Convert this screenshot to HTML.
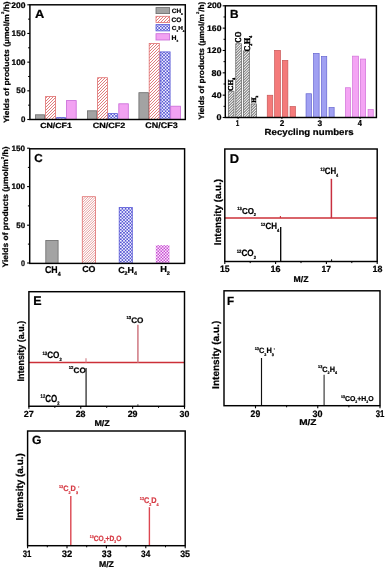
<!DOCTYPE html>
<html><head><meta charset="utf-8"><style>
html,body{margin:0;padding:0;background:#fff;width:390px;height:569px;overflow:hidden;}
svg{display:block;will-change:transform;text-rendering:geometricPrecision;font-family:"Liberation Sans",sans-serif;}
</style></head><body>
<svg width="390" height="569" viewBox="0 0 390 569"><defs>
<pattern id="hatchR" patternUnits="userSpaceOnUse" width="1.7" height="1.7" patternTransform="rotate(45)">
<rect width="1.7" height="1.7" fill="#fff"/><rect x="0" y="0" width="0.75" height="1.7" fill="#e07878"/></pattern>
<pattern id="hatchG" patternUnits="userSpaceOnUse" width="1.8" height="1.8" patternTransform="rotate(45)">
<rect width="1.8" height="1.8" fill="#fff"/><rect x="0" y="0" width="0.8" height="1.8" fill="#8a8a8a"/></pattern>
<pattern id="checkB" patternUnits="userSpaceOnUse" width="3.2" height="3.2">
<rect width="3.2" height="3.2" fill="#f2f2ff"/><rect x="0" y="0" width="1.6" height="1.6" fill="#5656d2"/><rect x="1.6" y="1.6" width="1.6" height="1.6" fill="#5656d2"/></pattern>
<pattern id="checkP" patternUnits="userSpaceOnUse" width="3.0" height="3.0">
<rect width="3.0" height="3.0" fill="#fbe4fb"/><rect x="0" y="0" width="1.5" height="1.5" fill="#c850d4"/><rect x="1.5" y="1.5" width="1.5" height="1.5" fill="#c850d4"/></pattern>
</defs><rect width="390" height="569" fill="#fff"/>
<rect x="35.5" y="114.8" width="9" height="4.7" fill="#a3a3a3" stroke="#6a6a6a" stroke-width="0.8"/>
<rect x="45.6" y="96.5" width="10" height="23" fill="#fff"/>
<path d="M45.6 98.4L47.5 96.5M45.6 101.4L50.5 96.5M45.6 104.4L53.5 96.5M45.6 107.4L55.6 97.4M45.6 110.4L55.6 100.4M45.6 113.4L55.6 103.4M45.6 116.4L55.6 106.4M45.6 119.4L55.6 109.4M48.5 119.5L55.6 112.4M51.5 119.5L55.6 115.4M54.5 119.5L55.6 118.4" stroke="#e07c7c" stroke-width="1" fill="none"/>
<rect x="45.6" y="96.5" width="10" height="23" fill="none" stroke="#e07070" stroke-width="0.8"/>
<rect x="56.6" y="117.6" width="8.8" height="1.9" fill="url(#checkB)" stroke="#5a5ad8" stroke-width="0.8"/>
<rect x="66.5" y="100.6" width="9.7" height="18.9" fill="#f2a2f2" stroke="#c868d8" stroke-width="0.8"/>
<rect x="87.5" y="110.8" width="9.3" height="8.7" fill="#a3a3a3" stroke="#6a6a6a" stroke-width="0.8"/>
<rect x="97.6" y="77.7" width="9.8" height="41.8" fill="#fff"/>
<path d="M97.6 79.4L99.3 77.7M97.6 82.4L102.3 77.7M97.6 85.4L105.3 77.7M97.6 88.4L107.4 78.6M97.6 91.4L107.4 81.6M97.6 94.4L107.4 84.6M97.6 97.4L107.4 87.6M97.6 100.4L107.4 90.6M97.6 103.4L107.4 93.6M97.6 106.4L107.4 96.6M97.6 109.4L107.4 99.6M97.6 112.4L107.4 102.6M97.6 115.4L107.4 105.6M97.6 118.4L107.4 108.6M99.5 119.5L107.4 111.6M102.5 119.5L107.4 114.6M105.5 119.5L107.4 117.6" stroke="#e07c7c" stroke-width="1" fill="none"/>
<rect x="97.6" y="77.7" width="9.8" height="41.8" fill="none" stroke="#e07070" stroke-width="0.8"/>
<rect x="108.2" y="113.6" width="9.2" height="5.9" fill="url(#checkB)" stroke="#5a5ad8" stroke-width="0.8"/>
<rect x="118.8" y="103.8" width="9.5" height="15.7" fill="#f2a2f2" stroke="#c868d8" stroke-width="0.8"/>
<rect x="138.9" y="92.7" width="9.5" height="26.8" fill="#a3a3a3" stroke="#6a6a6a" stroke-width="0.8"/>
<rect x="149.2" y="43.5" width="10.1" height="76" fill="#fff"/>
<path d="M149.2 45.8L151.5 43.5M149.2 48.8L154.5 43.5M149.2 51.8L157.5 43.5M149.2 54.8L159.3 44.7M149.2 57.8L159.3 47.7M149.2 60.8L159.3 50.7M149.2 63.8L159.3 53.7M149.2 66.8L159.3 56.7M149.2 69.8L159.3 59.7M149.2 72.8L159.3 62.7M149.2 75.8L159.3 65.7M149.2 78.8L159.3 68.7M149.2 81.8L159.3 71.7M149.2 84.8L159.3 74.7M149.2 87.8L159.3 77.7M149.2 90.8L159.3 80.7M149.2 93.8L159.3 83.7M149.2 96.8L159.3 86.7M149.2 99.8L159.3 89.7M149.2 102.8L159.3 92.7M149.2 105.8L159.3 95.7M149.2 108.8L159.3 98.7M149.2 111.8L159.3 101.7M149.2 114.8L159.3 104.7M149.2 117.8L159.3 107.7M150.5 119.5L159.3 110.7M153.5 119.5L159.3 113.7M156.5 119.5L159.3 116.7" stroke="#e07c7c" stroke-width="1" fill="none"/>
<rect x="149.2" y="43.5" width="10.1" height="76" fill="none" stroke="#e07070" stroke-width="0.8"/>
<rect x="160.1" y="51.9" width="10" height="67.6" fill="url(#checkB)" stroke="#5a5ad8" stroke-width="0.8"/>
<rect x="170.7" y="106.2" width="9.7" height="13.3" fill="#f2a2f2" stroke="#c868d8" stroke-width="0.8"/>
<rect x="156" y="7.6" width="13.6" height="6" fill="#a3a3a3" stroke="#6a6a6a" stroke-width="0.8"/>
<rect x="156" y="16.3" width="13.6" height="6.3" fill="#fff"/>
<path d="M156 18L157.7 16.3M156 21L160.7 16.3M157.4 22.6L163.7 16.3M160.4 22.6L166.7 16.3M163.4 22.6L169.6 16.4M166.4 22.6L169.6 19.4M169.4 22.6L169.6 22.4" stroke="#e07c7c" stroke-width="1" fill="none"/>
<rect x="156" y="16.3" width="13.6" height="6.3" fill="none" stroke="#e07070" stroke-width="0.8"/>
<rect x="156" y="24.6" width="13.6" height="6.3" fill="url(#checkB)" stroke="#5a5ad8" stroke-width="0.8"/>
<rect x="156" y="33.7" width="13.6" height="6.3" fill="#f2a2f2" stroke="#c868d8" stroke-width="0.8"/>
<rect x="29.9" y="4.8" width="155.4" height="114.7" fill="none" stroke="#000" stroke-width="1.45"/>
<line x1="27.3" y1="119.5" x2="29.9" y2="119.5" stroke="#000" stroke-width="1.1"/>
<line x1="27.3" y1="90.83" x2="29.9" y2="90.83" stroke="#000" stroke-width="1.1"/>
<line x1="27.3" y1="62.15" x2="29.9" y2="62.15" stroke="#000" stroke-width="1.1"/>
<line x1="27.3" y1="33.47" x2="29.9" y2="33.47" stroke="#000" stroke-width="1.1"/>
<line x1="27.3" y1="4.8" x2="29.9" y2="4.8" stroke="#000" stroke-width="1.1"/>
<line x1="28.1" y1="105.16" x2="29.9" y2="105.16" stroke="#000" stroke-width="1"/>
<line x1="28.1" y1="76.49" x2="29.9" y2="76.49" stroke="#000" stroke-width="1"/>
<line x1="28.1" y1="47.81" x2="29.9" y2="47.81" stroke="#000" stroke-width="1"/>
<line x1="28.1" y1="19.14" x2="29.9" y2="19.14" stroke="#000" stroke-width="1"/>
<rect x="228.35" y="91.25" width="5.6" height="26.25" fill="#fff"/>
<path d="M228.35 92.95L230.05 91.25M228.35 95.65L232.75 91.25M228.35 98.35L233.95 92.75M228.35 101.05L233.95 95.45M228.35 103.75L233.95 98.15M228.35 106.45L233.95 100.85M228.35 109.15L233.95 103.55M228.35 111.85L233.95 106.25M228.35 114.55L233.95 108.95M228.35 117.25L233.95 111.65M230.8 117.5L233.95 114.35M233.5 117.5L233.95 117.05" stroke="#7c7c7c" stroke-width="1.05" fill="none"/>
<rect x="228.35" y="91.25" width="5.6" height="26.25" fill="none" stroke="#6e6e6e" stroke-width="0.8"/>
<rect x="235.75" y="43.75" width="5.7" height="73.75" fill="#fff"/>
<path d="M235.75 45.05L237.05 43.75M235.75 47.75L239.75 43.75M235.75 50.45L241.45 44.75M235.75 53.15L241.45 47.45M235.75 55.85L241.45 50.15M235.75 58.55L241.45 52.85M235.75 61.25L241.45 55.55M235.75 63.95L241.45 58.25M235.75 66.65L241.45 60.95M235.75 69.35L241.45 63.65M235.75 72.05L241.45 66.35M235.75 74.75L241.45 69.05M235.75 77.45L241.45 71.75M235.75 80.15L241.45 74.45M235.75 82.85L241.45 77.15M235.75 85.55L241.45 79.85M235.75 88.25L241.45 82.55M235.75 90.95L241.45 85.25M235.75 93.65L241.45 87.95M235.75 96.35L241.45 90.65M235.75 99.05L241.45 93.35M235.75 101.75L241.45 96.05M235.75 104.45L241.45 98.75M235.75 107.15L241.45 101.45M235.75 109.85L241.45 104.15M235.75 112.55L241.45 106.85M235.75 115.25L241.45 109.55M236.2 117.5L241.45 112.25M238.9 117.5L241.45 114.95" stroke="#7c7c7c" stroke-width="1.05" fill="none"/>
<rect x="235.75" y="43.75" width="5.7" height="73.75" fill="none" stroke="#6e6e6e" stroke-width="0.8"/>
<rect x="243.35" y="50.95" width="6" height="66.55" fill="#fff"/>
<path d="M243.35 50.95L243.35 50.95M243.35 53.65L246.05 50.95M243.35 56.35L248.75 50.95M243.35 59.05L249.35 53.05M243.35 61.75L249.35 55.75M243.35 64.45L249.35 58.45M243.35 67.15L249.35 61.15M243.35 69.85L249.35 63.85M243.35 72.55L249.35 66.55M243.35 75.25L249.35 69.25M243.35 77.95L249.35 71.95M243.35 80.65L249.35 74.65M243.35 83.35L249.35 77.35M243.35 86.05L249.35 80.05M243.35 88.75L249.35 82.75M243.35 91.45L249.35 85.45M243.35 94.15L249.35 88.15M243.35 96.85L249.35 90.85M243.35 99.55L249.35 93.55M243.35 102.25L249.35 96.25M243.35 104.95L249.35 98.95M243.35 107.65L249.35 101.65M243.35 110.35L249.35 104.35M243.35 113.05L249.35 107.05M243.35 115.75L249.35 109.75M244.3 117.5L249.35 112.45M247 117.5L249.35 115.15" stroke="#7c7c7c" stroke-width="1.05" fill="none"/>
<rect x="243.35" y="50.95" width="6" height="66.55" fill="none" stroke="#6e6e6e" stroke-width="0.8"/>
<rect x="251.15" y="103.95" width="5.3" height="13.55" fill="#fff"/>
<path d="M251.15 105.25L252.45 103.95M251.15 107.95L255.15 103.95M251.15 110.65L256.45 105.35M251.15 113.35L256.45 108.05M251.15 116.05L256.45 110.75M252.4 117.5L256.45 113.45M255.1 117.5L256.45 116.15" stroke="#7c7c7c" stroke-width="1.05" fill="none"/>
<rect x="251.15" y="103.95" width="5.3" height="13.55" fill="none" stroke="#6e6e6e" stroke-width="0.8"/>
<rect x="267.25" y="95.25" width="5.5" height="22.25" fill="#f47a7a" stroke="#c85858" stroke-width="0.7"/>
<rect x="274.65" y="50.35" width="5.8" height="67.15" fill="#f47a7a" stroke="#c85858" stroke-width="0.7"/>
<rect x="282.35" y="60.35" width="5.5" height="57.15" fill="#f47a7a" stroke="#c85858" stroke-width="0.7"/>
<rect x="290.05" y="106.55" width="5.4" height="10.95" fill="#f47a7a" stroke="#c85858" stroke-width="0.7"/>
<rect x="306.05" y="93.75" width="5.5" height="23.75" fill="#a0a0f2" stroke="#6464d0" stroke-width="0.7"/>
<rect x="313.65" y="53.45" width="5.5" height="64.05" fill="#a0a0f2" stroke="#6464d0" stroke-width="0.7"/>
<rect x="321.45" y="56.55" width="5.3" height="60.95" fill="#a0a0f2" stroke="#6464d0" stroke-width="0.7"/>
<rect x="329.05" y="107.55" width="5.1" height="9.95" fill="#a0a0f2" stroke="#6464d0" stroke-width="0.7"/>
<rect x="345.45" y="87.75" width="5.1" height="29.75" fill="#f4a4f4" stroke="#d070d8" stroke-width="0.7"/>
<rect x="352.65" y="56.15" width="5.9" height="61.35" fill="#f4a4f4" stroke="#d070d8" stroke-width="0.7"/>
<rect x="360.45" y="59.05" width="5.2" height="58.45" fill="#f4a4f4" stroke="#d070d8" stroke-width="0.7"/>
<rect x="368.05" y="109.45" width="5.2" height="8.05" fill="#f4a4f4" stroke="#d070d8" stroke-width="0.7"/>
<rect x="225.3" y="5.8" width="151.1" height="111.7" fill="none" stroke="#000" stroke-width="1.45"/>
<line x1="222.7" y1="117.5" x2="225.3" y2="117.5" stroke="#000" stroke-width="1.1"/>
<line x1="222.7" y1="95.16" x2="225.3" y2="95.16" stroke="#000" stroke-width="1.1"/>
<line x1="222.7" y1="72.82" x2="225.3" y2="72.82" stroke="#000" stroke-width="1.1"/>
<line x1="222.7" y1="50.48" x2="225.3" y2="50.48" stroke="#000" stroke-width="1.1"/>
<line x1="222.7" y1="28.14" x2="225.3" y2="28.14" stroke="#000" stroke-width="1.1"/>
<line x1="222.7" y1="5.8" x2="225.3" y2="5.8" stroke="#000" stroke-width="1.1"/>
<line x1="223.5" y1="106.33" x2="225.3" y2="106.33" stroke="#000" stroke-width="1"/>
<line x1="223.5" y1="83.99" x2="225.3" y2="83.99" stroke="#000" stroke-width="1"/>
<line x1="223.5" y1="61.65" x2="225.3" y2="61.65" stroke="#000" stroke-width="1"/>
<line x1="223.5" y1="39.31" x2="225.3" y2="39.31" stroke="#000" stroke-width="1"/>
<line x1="223.5" y1="16.97" x2="225.3" y2="16.97" stroke="#000" stroke-width="1"/>
<line x1="238.1" y1="117.5" x2="238.1" y2="119.1" stroke="#000" stroke-width="0.9"/>
<line x1="281.9" y1="117.5" x2="281.9" y2="119.1" stroke="#000" stroke-width="0.9"/>
<line x1="320" y1="117.5" x2="320" y2="119.1" stroke="#000" stroke-width="0.9"/>
<line x1="360.1" y1="117.5" x2="360.1" y2="119.1" stroke="#000" stroke-width="0.9"/>
<rect x="45.8" y="240.4" width="12.3" height="23" fill="#a3a3a3" stroke="#6a6a6a" stroke-width="0.8"/>
<rect x="82.3" y="196.7" width="13.1" height="66.7" fill="#fff"/>
<path d="M82.3 197.7L83.3 196.7M82.3 200.2L85.8 196.7M82.3 202.7L88.3 196.7M82.3 205.2L90.8 196.7M82.3 207.7L93.3 196.7M82.3 210.2L95.4 197.1M82.3 212.7L95.4 199.6M82.3 215.2L95.4 202.1M82.3 217.7L95.4 204.6M82.3 220.2L95.4 207.1M82.3 222.7L95.4 209.6M82.3 225.2L95.4 212.1M82.3 227.7L95.4 214.6M82.3 230.2L95.4 217.1M82.3 232.7L95.4 219.6M82.3 235.2L95.4 222.1M82.3 237.7L95.4 224.6M82.3 240.2L95.4 227.1M82.3 242.7L95.4 229.6M82.3 245.2L95.4 232.1M82.3 247.7L95.4 234.6M82.3 250.2L95.4 237.1M82.3 252.7L95.4 239.6M82.3 255.2L95.4 242.1M82.3 257.7L95.4 244.6M82.3 260.2L95.4 247.1M82.3 262.7L95.4 249.6M84.1 263.4L95.4 252.1M86.6 263.4L95.4 254.6M89.1 263.4L95.4 257.1M91.6 263.4L95.4 259.6M94.1 263.4L95.4 262.1" stroke="#e08a8a" stroke-width="0.8" fill="none"/>
<rect x="82.3" y="196.7" width="13.1" height="66.7" fill="none" stroke="#e07070" stroke-width="0.8"/>
<rect x="119.2" y="207.5" width="13.1" height="55.9" fill="url(#checkB)" stroke="#5a5ad8" stroke-width="0.8"/>
<rect x="155.8" y="245.2" width="13.7" height="18.2" fill="url(#checkP)" stroke="none" stroke-width="0.8"/>
<rect x="29.7" y="148.8" width="154.9" height="114.6" fill="none" stroke="#000" stroke-width="1.45"/>
<line x1="27.1" y1="148.2" x2="29.7" y2="148.2" stroke="#000" stroke-width="1.1"/>
<line x1="27.1" y1="186.6" x2="29.7" y2="186.6" stroke="#000" stroke-width="1.1"/>
<line x1="27.1" y1="225.2" x2="29.7" y2="225.2" stroke="#000" stroke-width="1.1"/>
<line x1="27.1" y1="263" x2="29.7" y2="263" stroke="#000" stroke-width="1.1"/>
<line x1="27.9" y1="167.4" x2="29.7" y2="167.4" stroke="#000" stroke-width="1"/>
<line x1="27.9" y1="205.9" x2="29.7" y2="205.9" stroke="#000" stroke-width="1"/>
<line x1="27.9" y1="244.1" x2="29.7" y2="244.1" stroke="#000" stroke-width="1"/>
<line x1="280.7" y1="261.5" x2="280.7" y2="227" stroke="#000" stroke-width="1.3"/>
<line x1="331.6" y1="261.5" x2="331.6" y2="259.3" stroke="#000" stroke-width="1"/>
<line x1="224.8" y1="218.1" x2="377.2" y2="218.1" stroke="#cc3038" stroke-width="1.5"/>
<line x1="331.4" y1="218.1" x2="331.4" y2="178.8" stroke="#c83040" stroke-width="1.5"/>
<line x1="280.4" y1="218.1" x2="280.4" y2="215.9" stroke="#cc3038" stroke-width="1.1"/>
<rect x="224.8" y="149" width="152.4" height="112.5" fill="none" stroke="#000" stroke-width="1.45"/>
<line x1="224.8" y1="261.5" x2="224.8" y2="264.1" stroke="#000" stroke-width="1.1"/>
<line x1="275.6" y1="261.5" x2="275.6" y2="264.1" stroke="#000" stroke-width="1.1"/>
<line x1="326.4" y1="261.5" x2="326.4" y2="264.1" stroke="#000" stroke-width="1.1"/>
<line x1="377.2" y1="261.5" x2="377.2" y2="264.1" stroke="#000" stroke-width="1.1"/>
<line x1="250.2" y1="261.5" x2="250.2" y2="263.1" stroke="#000" stroke-width="1"/>
<line x1="301" y1="261.5" x2="301" y2="263.1" stroke="#000" stroke-width="1"/>
<line x1="351.8" y1="261.5" x2="351.8" y2="263.1" stroke="#000" stroke-width="1"/>
<line x1="86.1" y1="406.25" x2="86.1" y2="368.1" stroke="#4a4a4a" stroke-width="1.5"/>
<line x1="137.9" y1="406.25" x2="137.9" y2="404.2" stroke="#4a4a4a" stroke-width="1"/>
<line x1="28.9" y1="362.4" x2="184.5" y2="362.4" stroke="#cc3038" stroke-width="1.5"/>
<line x1="137.9" y1="362.4" x2="137.9" y2="324.7" stroke="#d48890" stroke-width="1.7"/>
<line x1="86" y1="362.4" x2="86" y2="358.3" stroke="#d48890" stroke-width="1.2"/>
<rect x="28.9" y="291.7" width="155.6" height="114.55" fill="none" stroke="#000" stroke-width="1.45"/>
<line x1="28.9" y1="406.25" x2="28.9" y2="408.85" stroke="#000" stroke-width="1.1"/>
<line x1="80.77" y1="406.25" x2="80.77" y2="408.85" stroke="#000" stroke-width="1.1"/>
<line x1="132.63" y1="406.25" x2="132.63" y2="408.85" stroke="#000" stroke-width="1.1"/>
<line x1="184.5" y1="406.25" x2="184.5" y2="408.85" stroke="#000" stroke-width="1.1"/>
<line x1="54.83" y1="406.25" x2="54.83" y2="407.85" stroke="#000" stroke-width="1"/>
<line x1="106.7" y1="406.25" x2="106.7" y2="407.85" stroke="#000" stroke-width="1"/>
<line x1="158.57" y1="406.25" x2="158.57" y2="407.85" stroke="#000" stroke-width="1"/>
<line x1="261.5" y1="405.7" x2="261.5" y2="358" stroke="#111" stroke-width="1.15"/>
<line x1="324.1" y1="405.7" x2="324.1" y2="374.8" stroke="#333" stroke-width="1.15"/>
<rect x="224" y="290.8" width="156" height="114.9" fill="none" stroke="#000" stroke-width="1.45"/>
<line x1="255.5" y1="405.7" x2="255.5" y2="408.3" stroke="#000" stroke-width="1.1"/>
<line x1="317.75" y1="405.7" x2="317.75" y2="408.3" stroke="#000" stroke-width="1.1"/>
<line x1="380" y1="405.7" x2="380" y2="408.3" stroke="#000" stroke-width="1.1"/>
<line x1="286.62" y1="405.7" x2="286.62" y2="407.3" stroke="#000" stroke-width="1"/>
<line x1="348.88" y1="405.7" x2="348.88" y2="407.3" stroke="#000" stroke-width="1"/>
<line x1="70.8" y1="545.7" x2="70.8" y2="496" stroke="#dc4650" stroke-width="1.4"/>
<line x1="149.4" y1="545.7" x2="149.4" y2="507.2" stroke="#dc4650" stroke-width="1.4"/>
<rect x="27.6" y="431" width="157.6" height="114.7" fill="none" stroke="#000" stroke-width="1.45"/>
<line x1="27.6" y1="545.7" x2="27.6" y2="548.3" stroke="#000" stroke-width="1.1"/>
<line x1="67" y1="545.7" x2="67" y2="548.3" stroke="#000" stroke-width="1.1"/>
<line x1="106.4" y1="545.7" x2="106.4" y2="548.3" stroke="#000" stroke-width="1.1"/>
<line x1="145.8" y1="545.7" x2="145.8" y2="548.3" stroke="#000" stroke-width="1.1"/>
<line x1="185.2" y1="545.7" x2="185.2" y2="548.3" stroke="#000" stroke-width="1.1"/>
<line x1="47.3" y1="545.7" x2="47.3" y2="547.3" stroke="#000" stroke-width="1"/>
<line x1="86.7" y1="545.7" x2="86.7" y2="547.3" stroke="#000" stroke-width="1"/>
<line x1="126.1" y1="545.7" x2="126.1" y2="547.3" stroke="#000" stroke-width="1"/>
<line x1="165.5" y1="545.7" x2="165.5" y2="547.3" stroke="#000" stroke-width="1"/>
<text id="A_ylab" transform="translate(8.62,123.05) rotate(-90)" x="0" y="0" font-size="7.54" font-weight="bold" fill="#000" stroke="#000" stroke-width="0.22" font-family="Liberation Sans" textLength="121.74" lengthAdjust="spacingAndGlyphs"><tspan>Yields of products (µmol/m</tspan><tspan dy="-4.68" font-size="3.77">2</tspan><tspan dy="4.68" font-size="7.54">/h)</tspan></text>
<text id="A_t200" x="11.21" y="7.77" font-size="8.13" font-weight="bold" fill="#000" stroke="#000" stroke-width="0.22" font-family="Liberation Sans" textLength="14.25" lengthAdjust="spacingAndGlyphs"><tspan>200</tspan></text>
<text id="A_t150" x="11.58" y="35.85" font-size="8.04" font-weight="bold" fill="#000" stroke="#000" stroke-width="0.22" font-family="Liberation Sans" textLength="13.97" lengthAdjust="spacingAndGlyphs"><tspan>150</tspan></text>
<text id="A_t100" x="11.49" y="65.07" font-size="8.1" font-weight="bold" fill="#000" stroke="#000" stroke-width="0.22" font-family="Liberation Sans" textLength="13.98" lengthAdjust="spacingAndGlyphs"><tspan>100</tspan></text>
<text id="A_t50" x="16.35" y="93.32" font-size="7.97" font-weight="bold" fill="#000" stroke="#000" stroke-width="0.22" font-family="Liberation Sans" textLength="9.11" lengthAdjust="spacingAndGlyphs"><tspan>50</tspan></text>
<text id="A_t0" x="21" y="122.35" font-size="8.04" font-weight="bold" fill="#000" stroke="#000" stroke-width="0.22" font-family="Liberation Sans" textLength="4.41" lengthAdjust="spacingAndGlyphs"><tspan>0</tspan></text>
<text id="A_let" x="35.14" y="17.85" font-size="11.72" font-weight="bold" fill="#000" stroke="#000" stroke-width="0.22" font-family="Liberation Sans" textLength="9.26" lengthAdjust="spacingAndGlyphs"><tspan>A</tspan></text>
<text id="A_x1" x="40.23" y="127.54" font-size="7.49" font-weight="bold" fill="#000" stroke="#000" stroke-width="0.22" font-family="Liberation Sans" textLength="31.61" lengthAdjust="spacingAndGlyphs"><tspan>CN/CF1</tspan></text>
<text id="A_x2" x="92.66" y="127.67" font-size="7.62" font-weight="bold" fill="#000" stroke="#000" stroke-width="0.22" font-family="Liberation Sans" textLength="32.57" lengthAdjust="spacingAndGlyphs"><tspan>CN/CF2</tspan></text>
<text id="A_x3" x="145.34" y="128.24" font-size="8.12" font-weight="bold" fill="#000" stroke="#000" stroke-width="0.22" font-family="Liberation Sans" textLength="32.36" lengthAdjust="spacingAndGlyphs"><tspan>CN/CF3</tspan></text>
<text id="A_l1" x="171.65" y="12.87" font-size="6.25" font-weight="bold" fill="#000" stroke="#000" stroke-width="0.22" font-family="Liberation Sans" textLength="11.12" lengthAdjust="spacingAndGlyphs"><tspan>CH</tspan><tspan dy="1.88" font-size="2.81">4</tspan></text>
<text id="A_l2" x="171.45" y="21.51" font-size="6.52" font-weight="bold" fill="#000" stroke="#000" stroke-width="0.22" font-family="Liberation Sans" textLength="9.91" lengthAdjust="spacingAndGlyphs"><tspan>CO</tspan></text>
<text id="A_l3" x="171.87" y="30.21" font-size="5.79" font-weight="bold" fill="#000" stroke="#000" stroke-width="0.22" font-family="Liberation Sans" textLength="12.57" lengthAdjust="spacingAndGlyphs"><tspan>C</tspan><tspan dy="1.74" font-size="2.61">2</tspan><tspan dy="-1.74" font-size="5.79">H</tspan><tspan dy="1.74" font-size="2.61">4</tspan></text>
<text id="A_l4" x="171.63" y="39.56" font-size="6.57" font-weight="bold" fill="#000" stroke="#000" stroke-width="0.22" font-family="Liberation Sans" textLength="6.71" lengthAdjust="spacingAndGlyphs"><tspan>H</tspan><tspan dy="1.97" font-size="2.96">2</tspan></text>
<text id="B_ylab" transform="translate(204,119.73) rotate(-90)" x="0" y="0" font-size="7.64" font-weight="bold" fill="#000" stroke="#000" stroke-width="0.22" font-family="Liberation Sans" textLength="118.06" lengthAdjust="spacingAndGlyphs"><tspan>Yields of products (µmol/m</tspan><tspan dy="-4.74" font-size="3.82">2</tspan><tspan dy="4.74" font-size="7.64">/h)</tspan></text>
<text id="B_t200" x="207.29" y="8.15" font-size="8.07" font-weight="bold" fill="#000" stroke="#000" stroke-width="0.22" font-family="Liberation Sans" textLength="14.33" lengthAdjust="spacingAndGlyphs"><tspan>200</tspan></text>
<text id="B_t160" x="207.06" y="30.74" font-size="8.04" font-weight="bold" fill="#000" stroke="#000" stroke-width="0.22" font-family="Liberation Sans" textLength="14.42" lengthAdjust="spacingAndGlyphs"><tspan>160</tspan></text>
<text id="B_t120" x="207.08" y="53.31" font-size="8.09" font-weight="bold" fill="#000" stroke="#000" stroke-width="0.22" font-family="Liberation Sans" textLength="14.34" lengthAdjust="spacingAndGlyphs"><tspan>120</tspan></text>
<text id="B_t80" x="211.62" y="75.72" font-size="8.34" font-weight="bold" fill="#000" stroke="#000" stroke-width="0.22" font-family="Liberation Sans" textLength="9.97" lengthAdjust="spacingAndGlyphs"><tspan>80</tspan></text>
<text id="B_t40" x="211.83" y="98.02" font-size="8.08" font-weight="bold" fill="#000" stroke="#000" stroke-width="0.22" font-family="Liberation Sans" textLength="9.71" lengthAdjust="spacingAndGlyphs"><tspan>40</tspan></text>
<text id="B_t0" x="216.56" y="120.35" font-size="8.31" font-weight="bold" fill="#000" stroke="#000" stroke-width="0.22" font-family="Liberation Sans" textLength="5.03" lengthAdjust="spacingAndGlyphs"><tspan>0</tspan></text>
<text id="B_let" x="229.96" y="18.09" font-size="11.74" font-weight="bold" fill="#000" stroke="#000" stroke-width="0.22" font-family="Liberation Sans" textLength="8.58" lengthAdjust="spacingAndGlyphs"><tspan>B</tspan></text>
<text id="B_x1" x="235.71" y="125.68" font-size="8.38" font-weight="bold" fill="#000" stroke="#000" stroke-width="0.22" font-family="Liberation Sans" textLength="3.5" lengthAdjust="spacingAndGlyphs"><tspan>1</tspan></text>
<text id="B_x2" x="279.68" y="125.89" font-size="8.47" font-weight="bold" fill="#000" stroke="#000" stroke-width="0.22" font-family="Liberation Sans" textLength="4.56" lengthAdjust="spacingAndGlyphs"><tspan>2</tspan></text>
<text id="B_x3" x="317.53" y="125.88" font-size="8.15" font-weight="bold" fill="#000" stroke="#000" stroke-width="0.22" font-family="Liberation Sans" textLength="4.68" lengthAdjust="spacingAndGlyphs"><tspan>3</tspan></text>
<text id="B_x4" x="357.78" y="126.08" font-size="8.59" font-weight="bold" fill="#000" stroke="#000" stroke-width="0.22" font-family="Liberation Sans" textLength="4.19" lengthAdjust="spacingAndGlyphs"><tspan>4</tspan></text>
<text id="B_xlab" x="264.64" y="135.26" font-size="8.85" font-weight="bold" fill="#000" stroke="#000" stroke-width="0.22" font-family="Liberation Sans" textLength="88.95" lengthAdjust="spacingAndGlyphs"><tspan>Recycling numbers</tspan></text>
<text id="B_s1" transform="translate(233.11,91.06) rotate(-90)" x="0" y="0" font-size="7.44" font-weight="bold" fill="#000" stroke="#000" stroke-width="0.45" font-family="Liberation Serif" textLength="13.2" lengthAdjust="spacingAndGlyphs"><tspan>CH</tspan><tspan dy="2.23" font-size="3.72">4</tspan></text>
<text id="B_s2" transform="translate(240.96,42.64) rotate(-90)" x="0" y="0" font-size="8.92" font-weight="bold" fill="#000" stroke="#000" stroke-width="0.45" font-family="Liberation Serif" textLength="11" lengthAdjust="spacingAndGlyphs"><tspan>CO</tspan></text>
<text id="B_s3" transform="translate(249.66,51.47) rotate(-90)" x="0" y="0" font-size="8.65" font-weight="bold" fill="#000" stroke="#000" stroke-width="0.45" font-family="Liberation Serif" textLength="15.58" lengthAdjust="spacingAndGlyphs"><tspan>C</tspan><tspan dy="2.59" font-size="4.32">2</tspan><tspan dy="-2.59" font-size="8.65">H</tspan><tspan dy="2.59" font-size="4.32">4</tspan></text>
<text id="B_s4" transform="translate(255.62,102.86) rotate(-90)" x="0" y="0" font-size="6.58" font-weight="bold" fill="#000" stroke="#000" stroke-width="0.45" font-family="Liberation Serif" textLength="6.99" lengthAdjust="spacingAndGlyphs"><tspan>H</tspan><tspan dy="1.97" font-size="3.29">2</tspan></text>
<text id="C_ylab" transform="translate(8.46,267.4) rotate(-90)" x="0" y="0" font-size="7.88" font-weight="bold" fill="#000" stroke="#000" stroke-width="0.22" font-family="Liberation Sans" textLength="120.9" lengthAdjust="spacingAndGlyphs"><tspan>Yields of products (µmol/m</tspan><tspan dy="-4.88" font-size="3.94">2</tspan><tspan dy="4.88" font-size="7.88">/h)</tspan></text>
<text id="C_t150" x="11.46" y="150.72" font-size="7.76" font-weight="bold" fill="#000" stroke="#000" stroke-width="0.22" font-family="Liberation Sans" textLength="13.54" lengthAdjust="spacingAndGlyphs"><tspan>150</tspan></text>
<text id="C_t100" x="11.55" y="189.25" font-size="8.05" font-weight="bold" fill="#000" stroke="#000" stroke-width="0.22" font-family="Liberation Sans" textLength="13.5" lengthAdjust="spacingAndGlyphs"><tspan>100</tspan></text>
<text id="C_t50" x="16.25" y="227.89" font-size="7.89" font-weight="bold" fill="#000" stroke="#000" stroke-width="0.22" font-family="Liberation Sans" textLength="8.84" lengthAdjust="spacingAndGlyphs"><tspan>50</tspan></text>
<text id="C_t0" x="20.96" y="266.02" font-size="8.07" font-weight="bold" fill="#000" stroke="#000" stroke-width="0.22" font-family="Liberation Sans" textLength="3.99" lengthAdjust="spacingAndGlyphs"><tspan>0</tspan></text>
<text id="C_let" x="34.16" y="162.05" font-size="11.58" font-weight="bold" fill="#000" stroke="#000" stroke-width="0.22" font-family="Liberation Sans" textLength="8.45" lengthAdjust="spacingAndGlyphs"><tspan>C</tspan></text>
<text id="C_x1" x="44.95" y="272.85" font-size="9.91" font-weight="bold" fill="#000" stroke="#000" stroke-width="0.22" font-family="Liberation Sans" textLength="15.61" lengthAdjust="spacingAndGlyphs"><tspan>CH</tspan><tspan dy="2.97" font-size="5.95">4</tspan></text>
<text id="C_x2" x="82.17" y="271.74" font-size="8.73" font-weight="bold" fill="#000" stroke="#000" stroke-width="0.22" font-family="Liberation Sans" textLength="13.28" lengthAdjust="spacingAndGlyphs"><tspan>CO</tspan></text>
<text id="C_x3" x="118.17" y="272.7" font-size="8.63" font-weight="bold" fill="#000" stroke="#000" stroke-width="0.22" font-family="Liberation Sans" textLength="18.7" lengthAdjust="spacingAndGlyphs"><tspan>C</tspan><tspan dy="2.59" font-size="5.18">2</tspan><tspan dy="-2.59" font-size="8.63">H</tspan><tspan dy="2.59" font-size="5.18">4</tspan></text>
<text id="C_x4" x="160.15" y="272.09" font-size="8.64" font-weight="bold" fill="#000" stroke="#000" stroke-width="0.22" font-family="Liberation Sans" textLength="9.8" lengthAdjust="spacingAndGlyphs"><tspan>H</tspan><tspan dy="2.59" font-size="5.19">2</tspan></text>
<text id="D_ylab" transform="translate(221.07,245.33) rotate(-90)" x="0" y="0" font-size="9.72" font-weight="bold" fill="#000" stroke="#000" stroke-width="0.22" font-family="Liberation Sans" textLength="66.35" lengthAdjust="spacingAndGlyphs"><tspan>Intensity (a.u.)</tspan></text>
<text id="D_a1" x="320.17" y="174.27" font-size="9.32" font-weight="bold" fill="#000" stroke="#000" stroke-width="0.22" font-family="Liberation Sans" textLength="18.1" lengthAdjust="spacingAndGlyphs"><tspan dy="-3.73" font-size="4.84">13</tspan><tspan dy="3.73" font-size="9.32">CH</tspan><tspan dy="2.79" font-size="4.66">4</tspan></text>
<text id="D_a2" x="237.29" y="213.83" font-size="8.56" font-weight="bold" fill="#000" stroke="#000" stroke-width="0.22" font-family="Liberation Sans" textLength="18.76" lengthAdjust="spacingAndGlyphs"><tspan dy="-3.42" font-size="4.45">13</tspan><tspan dy="3.42" font-size="8.56">CO</tspan><tspan dy="2.57" font-size="4.28">2</tspan></text>
<text id="D_a3" x="260.79" y="229.18" font-size="9" font-weight="bold" fill="#000" stroke="#000" stroke-width="0.22" font-family="Liberation Sans" textLength="18.33" lengthAdjust="spacingAndGlyphs"><tspan dy="-3.6" font-size="4.68">12</tspan><tspan dy="3.6" font-size="9">CH</tspan><tspan dy="2.7" font-size="4.5">4</tspan></text>
<text id="D_a4" x="236.65" y="256.28" font-size="9.16" font-weight="bold" fill="#000" stroke="#000" stroke-width="0.22" font-family="Liberation Sans" textLength="19.28" lengthAdjust="spacingAndGlyphs"><tspan dy="-3.66" font-size="4.76">12</tspan><tspan dy="3.66" font-size="9.16">CO</tspan><tspan dy="2.75" font-size="4.58">2</tspan></text>
<text id="D_t15" x="219.9" y="272.25" font-size="9.33" font-weight="bold" fill="#000" stroke="#000" stroke-width="0.22" font-family="Liberation Sans" textLength="9.68" lengthAdjust="spacingAndGlyphs"><tspan>15</tspan></text>
<text id="D_t16" x="270.57" y="272.1" font-size="9.14" font-weight="bold" fill="#000" stroke="#000" stroke-width="0.22" font-family="Liberation Sans" textLength="10.04" lengthAdjust="spacingAndGlyphs"><tspan>16</tspan></text>
<text id="D_t17" x="321.61" y="271.84" font-size="8.91" font-weight="bold" fill="#000" stroke="#000" stroke-width="0.22" font-family="Liberation Sans" textLength="9.5" lengthAdjust="spacingAndGlyphs"><tspan>17</tspan></text>
<text id="D_t18" x="372.62" y="272" font-size="9.06" font-weight="bold" fill="#000" stroke="#000" stroke-width="0.22" font-family="Liberation Sans" textLength="9.91" lengthAdjust="spacingAndGlyphs"><tspan>18</tspan></text>
<text id="D_mz" x="293.63" y="282.2" font-size="8.2" font-weight="bold" fill="#000" stroke="#000" stroke-width="0.22" font-family="Liberation Sans" textLength="14.93" lengthAdjust="spacingAndGlyphs"><tspan>M/Z</tspan></text>
<text id="D_let" x="229.65" y="162.63" font-size="12.6" font-weight="bold" fill="#000" stroke="#000" stroke-width="0.22" font-family="Liberation Sans" textLength="9.32" lengthAdjust="spacingAndGlyphs"><tspan>D</tspan></text>
<text id="E_ylab" transform="translate(23.75,381.45) rotate(-90)" x="0" y="0" font-size="9.47" font-weight="bold" fill="#000" stroke="#000" stroke-width="0.22" font-family="Liberation Sans" textLength="60.57" lengthAdjust="spacingAndGlyphs"><tspan>Intensity (a.u.)</tspan></text>
<text id="E_a1" x="126.44" y="322.69" font-size="7.99" font-weight="bold" fill="#000" stroke="#000" stroke-width="0.22" font-family="Liberation Sans" textLength="17.02" lengthAdjust="spacingAndGlyphs"><tspan dy="-3.2" font-size="4.15">13</tspan><tspan dy="3.2" font-size="7.99">CO</tspan></text>
<text id="E_a2" x="42.5" y="358.32" font-size="9.21" font-weight="bold" fill="#000" stroke="#000" stroke-width="0.22" font-family="Liberation Sans" textLength="19.28" lengthAdjust="spacingAndGlyphs"><tspan dy="-3.68" font-size="4.79">13</tspan><tspan dy="3.68" font-size="9.21">CO</tspan><tspan dy="2.76" font-size="4.6">2</tspan></text>
<text id="E_a3" x="68.77" y="372.66" font-size="7.92" font-weight="bold" fill="#000" stroke="#000" stroke-width="0.22" font-family="Liberation Sans" textLength="16.96" lengthAdjust="spacingAndGlyphs"><tspan dy="-3.17" font-size="4.12">12</tspan><tspan dy="3.17" font-size="7.92">CO</tspan></text>
<text id="E_a4" x="40.61" y="401.83" font-size="10.31" font-weight="bold" fill="#000" stroke="#000" stroke-width="0.22" font-family="Liberation Sans" textLength="18.85" lengthAdjust="spacingAndGlyphs"><tspan dy="-4.13" font-size="5.36">12</tspan><tspan dy="4.13" font-size="10.31">CO</tspan><tspan dy="3.09" font-size="5.16">2</tspan></text>
<text id="E_t27" x="23.69" y="416.76" font-size="8.92" font-weight="bold" fill="#000" stroke="#000" stroke-width="0.22" font-family="Liberation Sans" textLength="10.14" lengthAdjust="spacingAndGlyphs"><tspan>27</tspan></text>
<text id="E_t28" x="75.66" y="417.33" font-size="8.97" font-weight="bold" fill="#000" stroke="#000" stroke-width="0.22" font-family="Liberation Sans" textLength="9.87" lengthAdjust="spacingAndGlyphs"><tspan>28</tspan></text>
<text id="E_t29" x="127.68" y="417.2" font-size="9.15" font-weight="bold" fill="#000" stroke="#000" stroke-width="0.22" font-family="Liberation Sans" textLength="9.87" lengthAdjust="spacingAndGlyphs"><tspan>29</tspan></text>
<text id="E_t30" x="179.58" y="417.44" font-size="8.88" font-weight="bold" fill="#000" stroke="#000" stroke-width="0.22" font-family="Liberation Sans" textLength="9.76" lengthAdjust="spacingAndGlyphs"><tspan>30</tspan></text>
<text id="E_mz" x="94.41" y="426.25" font-size="8.23" font-weight="bold" fill="#000" stroke="#000" stroke-width="0.22" font-family="Liberation Sans" textLength="15.37" lengthAdjust="spacingAndGlyphs"><tspan>M/Z</tspan></text>
<text id="E_let" x="33.2" y="305.11" font-size="12.65" font-weight="bold" fill="#000" stroke="#000" stroke-width="0.22" font-family="Liberation Sans" textLength="8.33" lengthAdjust="spacingAndGlyphs"><tspan>E</tspan></text>
<text id="F_ylab" transform="translate(219.23,388.88) rotate(-90)" x="0" y="0" font-size="9.84" font-weight="bold" fill="#000" stroke="#000" stroke-width="0.22" font-family="Liberation Sans" textLength="68.11" lengthAdjust="spacingAndGlyphs"><tspan>Intensity (a.u.)</tspan></text>
<text id="F_a1" x="254.67" y="353.49" font-size="7.69" font-weight="bold" fill="#000" stroke="#000" stroke-width="0.22" font-family="Liberation Sans" textLength="20.43" lengthAdjust="spacingAndGlyphs"><tspan dy="-3.08" font-size="4">13</tspan><tspan dy="3.08" font-size="7.69">C</tspan><tspan dy="2.31" font-size="3.85">2</tspan><tspan dy="-2.31" font-size="7.69">H</tspan><tspan dy="2.31" font-size="3.85">3</tspan><tspan dy="-5.38" font-size="4">-</tspan></text>
<text id="F_a2" x="318.07" y="371.54" font-size="7.68" font-weight="bold" fill="#000" stroke="#000" stroke-width="0.22" font-family="Liberation Sans" textLength="18.89" lengthAdjust="spacingAndGlyphs"><tspan dy="-3.07" font-size="3.99">13</tspan><tspan dy="3.07" font-size="7.68">C</tspan><tspan dy="2.3" font-size="3.84">2</tspan><tspan dy="-2.3" font-size="7.68">H</tspan><tspan dy="2.3" font-size="3.84">4</tspan></text>
<text id="F_a3" x="340.9" y="401.28" font-size="7.1" font-weight="bold" fill="#000" stroke="#000" stroke-width="0.22" font-family="Liberation Sans" textLength="32.73" lengthAdjust="spacingAndGlyphs"><tspan dy="-2.84" font-size="3.69">13</tspan><tspan dy="2.84" font-size="7.1">CO</tspan><tspan dy="2.13" font-size="3.55">2</tspan><tspan dy="-2.13" font-size="7.1">+H</tspan><tspan dy="2.13" font-size="3.55">2</tspan><tspan dy="-2.13" font-size="7.1">O</tspan></text>
<text id="F_t29" x="250.61" y="416.9" font-size="9.5" font-weight="bold" fill="#000" stroke="#000" stroke-width="0.22" font-family="Liberation Sans" textLength="9.58" lengthAdjust="spacingAndGlyphs"><tspan>29</tspan></text>
<text id="F_t30" x="312.6" y="416.73" font-size="9.29" font-weight="bold" fill="#000" stroke="#000" stroke-width="0.22" font-family="Liberation Sans" textLength="10" lengthAdjust="spacingAndGlyphs"><tspan>30</tspan></text>
<text id="F_t31" x="375.75" y="416.79" font-size="9.71" font-weight="bold" fill="#000" stroke="#000" stroke-width="0.22" font-family="Liberation Sans" textLength="8.62" lengthAdjust="spacingAndGlyphs"><tspan>31</tspan></text>
<text id="F_mz" x="299.21" y="425" font-size="8.29" font-weight="bold" fill="#000" stroke="#000" stroke-width="0.22" font-family="Liberation Sans" textLength="17.3" lengthAdjust="spacingAndGlyphs"><tspan>M/Z</tspan></text>
<text id="F_let" x="226.96" y="305.08" font-size="11.72" font-weight="bold" fill="#000" stroke="#000" stroke-width="0.22" font-family="Liberation Sans" textLength="7.13" lengthAdjust="spacingAndGlyphs"><tspan>F</tspan></text>
<text id="G_ylab" transform="translate(22.6,520.44) rotate(-90)" x="0" y="0" font-size="9.97" font-weight="bold" fill="#000" stroke="#000" stroke-width="0.22" font-family="Liberation Sans" textLength="67.18" lengthAdjust="spacingAndGlyphs"><tspan>Intensity (a.u.)</tspan></text>
<text id="G_a1" x="59" y="491.44" font-size="7.72" font-weight="bold" fill="#d63a44" stroke="#d63a44" stroke-width="0.22" font-family="Liberation Sans" textLength="20.2" lengthAdjust="spacingAndGlyphs"><tspan dy="-3.09" font-size="4.02">13</tspan><tspan dy="3.09" font-size="7.72">C</tspan><tspan dy="2.32" font-size="3.86">2</tspan><tspan dy="-2.32" font-size="7.72">D</tspan><tspan dy="2.32" font-size="3.86">3</tspan><tspan dy="-5.41" font-size="4.02">-</tspan></text>
<text id="G_a2" x="139.79" y="503.48" font-size="8.18" font-weight="bold" fill="#d63a44" stroke="#d63a44" stroke-width="0.22" font-family="Liberation Sans" textLength="18.86" lengthAdjust="spacingAndGlyphs"><tspan dy="-3.27" font-size="4.25">13</tspan><tspan dy="3.27" font-size="8.18">C</tspan><tspan dy="2.45" font-size="4.09">2</tspan><tspan dy="-2.45" font-size="8.18">D</tspan><tspan dy="2.45" font-size="4.09">4</tspan></text>
<text id="G_a3" x="89.84" y="540.99" font-size="7.58" font-weight="bold" fill="#d63a44" stroke="#d63a44" stroke-width="0.22" font-family="Liberation Sans" textLength="31.48" lengthAdjust="spacingAndGlyphs"><tspan dy="-3.03" font-size="3.94">13</tspan><tspan dy="3.03" font-size="7.58">CO</tspan><tspan dy="2.27" font-size="3.79">2</tspan><tspan dy="-2.27" font-size="7.58">+D</tspan><tspan dy="2.27" font-size="3.79">2</tspan><tspan dy="-2.27" font-size="7.58">O</tspan></text>
<text id="G_t31" x="22.63" y="556.95" font-size="9.38" font-weight="bold" fill="#000" stroke="#000" stroke-width="0.22" font-family="Liberation Sans" textLength="8.68" lengthAdjust="spacingAndGlyphs"><tspan>31</tspan></text>
<text id="G_t32" x="61.85" y="556.77" font-size="9.36" font-weight="bold" fill="#000" stroke="#000" stroke-width="0.22" font-family="Liberation Sans" textLength="10.52" lengthAdjust="spacingAndGlyphs"><tspan>32</tspan></text>
<text id="G_t33" x="101.86" y="556.55" font-size="9.46" font-weight="bold" fill="#000" stroke="#000" stroke-width="0.22" font-family="Liberation Sans" textLength="9.73" lengthAdjust="spacingAndGlyphs"><tspan>33</tspan></text>
<text id="G_t34" x="141.09" y="557.04" font-size="9.31" font-weight="bold" fill="#000" stroke="#000" stroke-width="0.22" font-family="Liberation Sans" textLength="9.22" lengthAdjust="spacingAndGlyphs"><tspan>34</tspan></text>
<text id="G_t35" x="180.19" y="556.79" font-size="9.29" font-weight="bold" fill="#000" stroke="#000" stroke-width="0.22" font-family="Liberation Sans" textLength="9.83" lengthAdjust="spacingAndGlyphs"><tspan>35</tspan></text>
<text id="G_mz" x="98.95" y="567.25" font-size="8.2" font-weight="bold" fill="#000" stroke="#000" stroke-width="0.22" font-family="Liberation Sans" textLength="14.96" lengthAdjust="spacingAndGlyphs"><tspan>M/Z</tspan></text>
<text id="G_let" x="32.02" y="443.94" font-size="11.94" font-weight="bold" fill="#000" stroke="#000" stroke-width="0.22" font-family="Liberation Sans" textLength="9.43" lengthAdjust="spacingAndGlyphs"><tspan>G</tspan></text>
</svg>
</body></html>
